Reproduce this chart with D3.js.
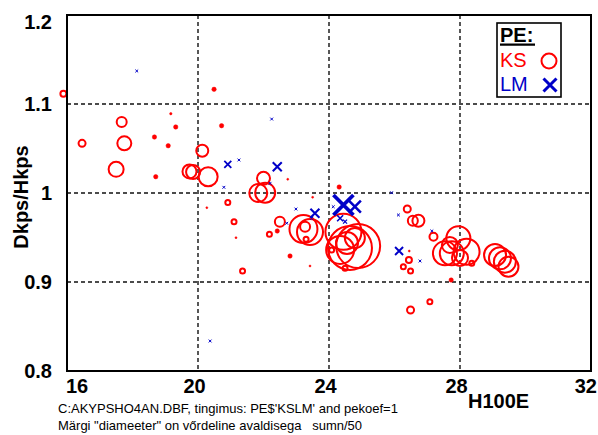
<!DOCTYPE html>
<html>
<head>
<meta charset="utf-8">
<script src="https://cdn.jsdelivr.net/npm/d3@7/dist/d3.min.js"></script>
<style>
  html, body { margin: 0; padding: 0; background: #fff; }
  svg { display: block; font-family: "Liberation Sans", Arial, sans-serif; }
</style>
</head>
<body>
<svg id="chart" width="598" height="435"></svg>
<script>
// Axis ticks
const xTicks = [16, 20, 24, 28, 32];
const yTicks = [0.8, 0.9, 1.0, 1.1, 1.2];
const yTickLabels = ["0.8", "0.9", "1", "1.1", "1.2"];
const gridX = [20, 24, 28];
const gridY = [0.9, 1.0, 1.1];

// PE = KS stands: H100E, Dkps/Hkps, marker size (sumn/50)
const ksX = [15.89, 17.67, 16.46, 17.75, 17.50, 19.17, 19.32, 18.67, 19.09, 18.71,
  20.13, 19.74, 19.85, 20.31, 20.49, 20.72, 22.00, 21.84, 22.05, 20.91,
  21.10, 22.18, 22.42, 21.36, 22.50, 23.22, 23.42, 23.27, 23.30, 22.81,
  24.31, 24.44, 24.64, 24.89, 24.34, 24.55, 24.79, 24.49, 24.08, 26.39,
  26.56, 26.73, 27.19, 26.44, 26.27, 26.49, 27.73, 27.95, 27.54, 27.75,
  28.20, 28.36, 29.07, 29.22, 29.37, 29.48, 27.08, 26.49, 27.69, 28.00,
  20.27, 21.16, 22.74, 23.42, 23.50, 26.45];
const ksY = [1.1116, 1.0798, 1.0558, 1.0558, 1.0266, 1.0891, 1.0742, 1.0629, 1.0531, 1.0183,
  1.0475, 1.0242, 1.0236, 1.0183, 1.1165, 1.0756, 1.0165, 1.0000, 1.0003, 0.9893,
  0.9678, 0.9536, 0.9573, 0.9124, 0.9678, 0.9595, 0.9562, 0.9622, 0.9480, 0.9292,
  1.0067, 0.9565, 0.9382, 0.9404, 0.9360, 0.9438, 0.9494, 0.9154, 0.9360, 0.9820,
  0.9689, 0.9689, 0.9509, 0.9247, 0.9172, 0.9124, 0.9022, 0.9491, 0.9322, 0.9322,
  0.9340, 0.9210, 0.9303, 0.9266, 0.9228, 0.9172, 0.8779, 0.8685, 0.9416, 0.9270,
  0.9835, 0.9498, 1.0154, 0.9180, 0.9952, 0.9348];
const ksSize = [3, 5, 3.5, 7, 7.5, 0.8, 1.8, 1.8, 1.8, 1.8,
  6, 7, 7, 9.5, 1.8, 1.8, 6.5, 9, 10, 2.5,
  2.5, 2.5, 1.8, 2.5, 5, 14, 13, 5, 2.5, 1.8,
  1.8, 18, 22, 22, 14, 11, 10, 2.5, 2.5, 3.5,
  5, 6, 4, 3, 2.5, 2.5, 1.8, 12, 12, 12,
  13, 2.5, 11, 11, 11, 10, 2.5, 3.5, 8, 8,
  0.6, 0.6, 0.6, 0.6, 0.6, 0.6];

// PE = LM stands
const lmX = [18.13, 20.91, 21.25, 22.42, 22.25, 20.79, 22.20, 22.71, 22.99, 23.57,
  23.47, 24.44, 24.79, 24.13, 24.34, 24.49, 25.91, 26.12, 26.14, 26.78,
  27.14, 20.37];
const lmY = [1.1371, 1.0322, 1.0371, 1.0296, 1.0831, 1.0064, 1.0109, 0.9660, 0.9820, 0.9772,
  0.9719, 0.9865, 0.9846, 0.9846, 0.9716, 0.9678, 1.0003, 0.9753, 0.9348, 0.9236,
  0.9573, 0.8337];
const lmSize = [1, 3.5, 0.8, 4.5, 1, 1, 1, 1, 1, 4.5,
  1.5, 10, 6, 1, 3, 2, 1, 1, 4, 1,
  1, 1];

const RED = "#ff0000";
const BLUE = "#0000c8";

const svg = d3.select("#chart");
svg.append("rect").attr("width", 598).attr("height", 435).attr("fill", "#fff");

const x = d3.scaleLinear().domain([16, 32]).range([67, 591]);
const y = d3.scaleLinear().domain([0.8, 1.2]).range([371, 15]);
const r = d3.scaleLinear().domain([0, 25]).range([0, 25]);
const xStroke = d3.scaleLinear().domain([1, 10]).range([1, 3.8]).clamp(true);

// dashed grid
const grid = svg.append("g")
  .attr("stroke", "#111").attr("stroke-width", 1.4).attr("stroke-dasharray", "4,3");
grid.selectAll("line.gx").data(gridX).join("line")
  .attr("x1", d => x(d)).attr("x2", d => x(d)).attr("y1", y(1.2)).attr("y2", y(0.8));
grid.selectAll("line.gy").data(gridY).join("line")
  .attr("y1", d => y(d)).attr("y2", d => y(d)).attr("x1", x(16)).attr("x2", x(32));

// KS markers
const ks = ksX.map((v, i) => ({ x: v, y: ksY[i], s: ksSize[i] }));
const ksG = svg.append("g");
ksG.selectAll("circle").data(ks).join("circle")
  .attr("cx", d => x(d.x)).attr("cy", d => y(d.y))
  .attr("r", d => d.s < 2.2 ? r(d.s) + 0.4 : r(d.s))
  .attr("fill", d => d.s < 2.2 ? RED : "none")
  .attr("stroke", RED)
  .attr("stroke-width", d => d.s < 2.2 ? 0.5 : 2);

// LM markers
const lm = lmX.map((v, i) => ({ x: v, y: lmY[i], s: lmSize[i] }));
const cross = s => `M${-s},${-s}L${s},${s}M${-s},${s}L${s},${-s}`;
svg.append("g").selectAll("path").data(lm).join("path")
  .attr("transform", d => `translate(${x(d.x)},${y(d.y)})`)
  .attr("d", d => cross(Math.max(1.4, r(d.s))))
  .attr("fill", "none").attr("stroke", BLUE)
  .attr("stroke-width", d => xStroke(d.s));

// frame
svg.append("rect").attr("x", 67).attr("y", 15).attr("width", 524).attr("height", 356)
  .attr("fill", "none").attr("stroke", "#000").attr("stroke-width", 2);

// y tick labels
svg.append("g").selectAll("text").data(yTicks).join("text")
  .attr("x", 52)
  .attr("y", d => Math.max(y(d), 22) + 7)
  .attr("text-anchor", "end")
  .attr("font-size", 20).attr("font-weight", "bold")
  .text((d, i) => yTickLabels[i]);

// x tick labels
svg.append("g").selectAll("text").data(xTicks).join("text")
  .attr("x", (d, i) => i === 0 ? x(d) - 1 : i === xTicks.length - 1 ? 597 : x(d) - 3.5)
  .attr("y", 393)
  .attr("text-anchor", (d, i) => i === 0 ? "start" : i === xTicks.length - 1 ? "end" : "middle")
  .attr("font-size", 20).attr("font-weight", "bold")
  .text(d => d);

// axis titles
svg.append("text").attr("x", 468).attr("y", 408)
  .attr("font-size", 20).attr("font-weight", "bold").text("H100E");
svg.append("text")
  .attr("transform", "translate(27.5,197) rotate(-90)")
  .attr("text-anchor", "middle")
  .attr("font-size", 20).attr("font-weight", "bold").text("Dkps/Hkps");

// footer notes
svg.append("text").attr("x", 58).attr("y", 413).attr("font-size", 13)
  .text("C:AKYPSHO4AN.DBF, tingimus: PE$'KSLM' and pekoef=1");
svg.append("text").attr("x", 58).attr("y", 430).attr("font-size", 13)
  .attr("xml:space", "preserve").style("white-space", "pre")
  .text("Märgi \"diameeter\" on vőrdeline avaldisega   sumn/50");

// legend
const lg = svg.append("g");
lg.append("rect").attr("x", 497).attr("y", 23).attr("width", 64).attr("height", 74)
  .attr("fill", "#fff").attr("stroke", "#000").attr("stroke-width", 1.6);
lg.append("text").attr("x", 500).attr("y", 42).attr("font-size", 20)
  .attr("font-weight", "bold").text("PE:");
lg.append("line").attr("x1", 500).attr("x2", 535).attr("y1", 44.6).attr("y2", 44.6)
  .attr("stroke", "#000").attr("stroke-width", 2.2);
lg.append("text").attr("x", 500).attr("y", 67).attr("font-size", 20)
  .attr("fill", RED).text("KS");
lg.append("circle").attr("cx", 549).attr("cy", 61).attr("r", 7.5)
  .attr("fill", "none").attr("stroke", RED).attr("stroke-width", 2);
lg.append("text").attr("x", 500).attr("y", 91).attr("font-size", 20)
  .attr("fill", BLUE).text("LM");
lg.append("path").attr("transform", "translate(550,85)").attr("d", cross(6.5))
  .attr("fill", "none").attr("stroke", BLUE).attr("stroke-width", 3);
</script>
</body>
</html>
